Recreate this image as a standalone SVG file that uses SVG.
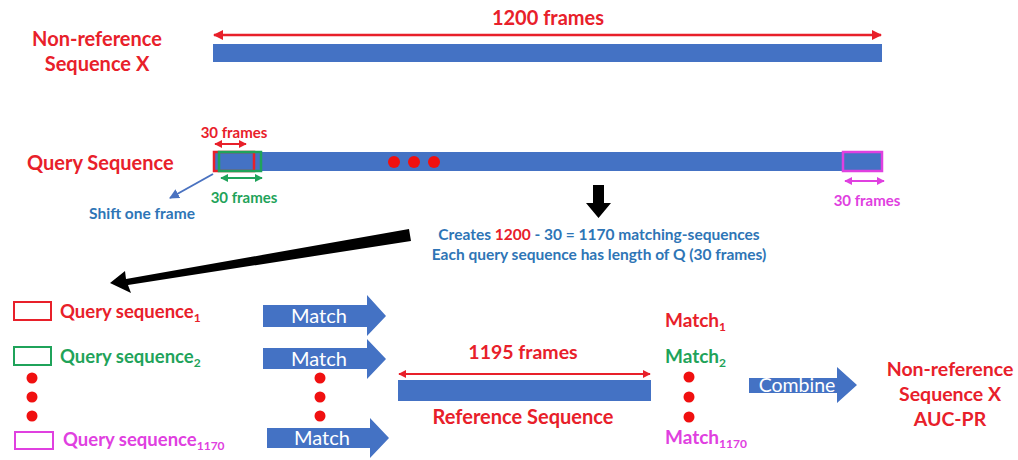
<svg xmlns="http://www.w3.org/2000/svg" width="1018" height="460" viewBox="0 0 1018 460">
  <defs>
    <style>
      text { font-family: Lato, "Open Sans", "Liberation Sans", sans-serif; font-weight: bold; }
      .red { fill: #E8202A; }
      .green { fill: #1FA35A; }
      .mag { fill: #E040E0; }
      .blue { fill: #2E75B6; }
      .bar { fill: #4472C4; }
      .dotr { fill: #F01010; }
      .lbl { fill: #ffffff; font-weight: normal; }
    </style>
    <marker id="hr" viewBox="0 0 10 10" refX="9" refY="5" markerWidth="4" markerHeight="4" orient="auto-start-reverse">
      <path d="M0,0 L10,5 L0,10 z" fill="#E8202A"/>
    </marker>
    <marker id="hg" viewBox="0 0 10 10" refX="9" refY="5" markerWidth="4" markerHeight="4" orient="auto-start-reverse">
      <path d="M0,0 L10,5 L0,10 z" fill="#1FA35A"/>
    </marker>
    <marker id="hm" viewBox="0 0 10 10" refX="9" refY="5" markerWidth="4" markerHeight="4" orient="auto-start-reverse">
      <path d="M0,0 L10,5 L0,10 z" fill="#E040E0"/>
    </marker>
    <marker id="hb" viewBox="0 0 10 10" refX="9" refY="5" markerWidth="5" markerHeight="5" orient="auto">
      <path d="M0,0 L10,5 L0,10 z" fill="#4A72C0"/>
    </marker>
  </defs>

  <!-- non-reference sequence -->
  <g id="nonref-seq">
    <text class="red" x="97" y="46" font-size="20" text-anchor="middle">Non-reference</text>
    <text class="red" x="97" y="71" font-size="20" text-anchor="middle">Sequence X</text>
    <text class="red" x="548" y="25" font-size="20" text-anchor="middle">1200 frames</text>
    <line x1="214" y1="35" x2="881" y2="35" stroke="#E8202A" stroke-width="2.5" marker-start="url(#hr)" marker-end="url(#hr)"/>
    <rect class="bar" x="213" y="44" width="669" height="18"/>
  </g>

  <!-- query sequence with sliding windows -->
  <g id="query-seq">
    <text class="red" x="27" y="170" font-size="20">Query Sequence</text>
    <rect class="bar" x="213" y="152" width="669" height="19"/>
    <rect x="214" y="152" width="40" height="19" fill="none" stroke="#E8202A" stroke-width="2.5"/>
    <rect x="219" y="152" width="42" height="19" fill="none" stroke="#1FA35A" stroke-width="2.5"/>
    <rect x="843" y="152" width="39" height="19" fill="none" stroke="#E040E0" stroke-width="2.5"/>
    <circle class="dotr" cx="394" cy="162" r="6"/>
    <circle class="dotr" cx="414" cy="162" r="6"/>
    <circle class="dotr" cx="434" cy="162" r="6"/>
    <text class="red" x="234" y="138" font-size="15" text-anchor="middle">30 frames</text>
    <line x1="215" y1="144" x2="246" y2="144" stroke="#E8202A" stroke-width="2" marker-start="url(#hr)" marker-end="url(#hr)"/>
    <line x1="221" y1="178" x2="262" y2="178" stroke="#1FA35A" stroke-width="2" marker-start="url(#hg)" marker-end="url(#hg)"/>
    <text class="green" x="244" y="203" font-size="15" text-anchor="middle">30 frames</text>
    <line x1="845" y1="181" x2="884" y2="181" stroke="#E040E0" stroke-width="2" marker-start="url(#hm)" marker-end="url(#hm)"/>
    <text class="mag" x="867" y="206" font-size="15" text-anchor="middle">30 frames</text>
    <text class="blue" x="142" y="219" font-size="15.5" text-anchor="middle">Shift one frame</text>
  </g>

  <!-- description text -->
  <g id="desc">
    <text class="blue" x="599" y="240" font-size="15.5" text-anchor="middle">Creates <tspan class="red">1200</tspan> - 30 = 1170 matching-sequences</text>
    <text class="blue" x="599" y="260" font-size="15.5" text-anchor="middle">Each query sequence has length of Q (30 frames)</text>
  </g>

  <!-- query sequence list -->
  <g id="query-list">
    <rect x="14" y="302" width="37" height="18" fill="none" stroke="#E8202A" stroke-width="2"/>
    <text class="red" x="60" y="318" font-size="18.5">Query sequence<tspan font-size="12" dy="4">1</tspan></text>
    <rect x="14" y="347" width="37" height="18" fill="none" stroke="#1FA35A" stroke-width="2"/>
    <text class="green" x="60" y="363" font-size="18.5">Query sequence<tspan font-size="12" dy="4">2</tspan></text>
    <circle class="dotr" cx="32" cy="378" r="5.5"/>
    <circle class="dotr" cx="32" cy="397" r="5.5"/>
    <circle class="dotr" cx="32" cy="416" r="5.5"/>
    <rect x="15" y="432" width="38" height="17" fill="none" stroke="#E040E0" stroke-width="2"/>
    <text class="mag" x="63" y="446" font-size="18.5">Query sequence<tspan font-size="12" dy="4">1170</tspan></text>
  </g>

  <!-- match arrows -->
  <g id="match-arrows">
    <path class="bar" d="M263,305 H367 V295 L386,316 L367,336 V327 H263 z"/>
    <text class="lbl" x="319" y="323" font-size="20" text-anchor="middle">Match</text>
    <path class="bar" d="M263,348 H367 V339 L386,359 L367,379 V369 H263 z"/>
    <text class="lbl" x="319" y="366" font-size="20" text-anchor="middle">Match</text>
    <circle class="dotr" cx="320" cy="378" r="5.5"/>
    <circle class="dotr" cx="320" cy="397" r="5.5"/>
    <circle class="dotr" cx="320" cy="416" r="5.5"/>
    <path class="bar" d="M267,428 H370 V418 L389,438 L370,458 V448 H267 z"/>
    <text class="lbl" x="322" y="445" font-size="20" text-anchor="middle">Match</text>
  </g>

  <!-- reference sequence -->
  <g id="ref-seq">
    <text class="red" x="523" y="359" font-size="19.5" text-anchor="middle">1195 frames</text>
    <line x1="399" y1="374" x2="650" y2="374" stroke="#E8202A" stroke-width="2" marker-start="url(#hr)" marker-end="url(#hr)"/>
    <rect class="bar" x="398" y="380" width="253" height="21"/>
    <text class="red" x="523" y="424" font-size="20" text-anchor="middle">Reference Sequence</text>
  </g>

  <!-- match results -->
  <g id="match-results">
    <text class="red" x="665" y="327" font-size="19">Match<tspan font-size="12" dy="4">1</tspan></text>
    <text class="green" x="665" y="363" font-size="19">Match<tspan font-size="12" dy="4">2</tspan></text>
    <circle class="dotr" cx="689" cy="377" r="5.5"/>
    <circle class="dotr" cx="689" cy="397" r="5.5"/>
    <circle class="dotr" cx="689" cy="417" r="5.5"/>
    <text class="mag" x="665" y="444" font-size="19">Match<tspan font-size="12" dy="4">1170</tspan></text>
  </g>

  <!-- combine step -->
  <g id="combine">
    <path class="bar" d="M749,378 H837 V367 L857,385 L837,403 V393 H749 z"/>
    <text class="lbl" x="797" y="392" font-size="19.5" text-anchor="middle">Combine</text>
  </g>

  <!-- final result -->
  <g id="result">
    <text class="red" x="950" y="376" font-size="19.5" text-anchor="middle">Non-reference</text>
    <text class="red" x="950" y="401" font-size="19.5" text-anchor="middle">Sequence X</text>
    <text class="red" x="950" y="426" font-size="19.5" text-anchor="middle">AUC-PR</text>
  </g>

  <!-- connectors -->
  <g id="connectors">
    <line x1="213" y1="174" x2="170" y2="198" stroke="#4A72C0" stroke-width="2" marker-end="url(#hb)"/>
    <path d="M593,185 H604 V203 H611 L598.5,218 L586,203 H593 z" fill="#000"/>
    <path d="M409,229 L411,241 L128,285 L131,293 L110,283 L125,271 L126,279 z" fill="#000"/>
  </g>
</svg>
